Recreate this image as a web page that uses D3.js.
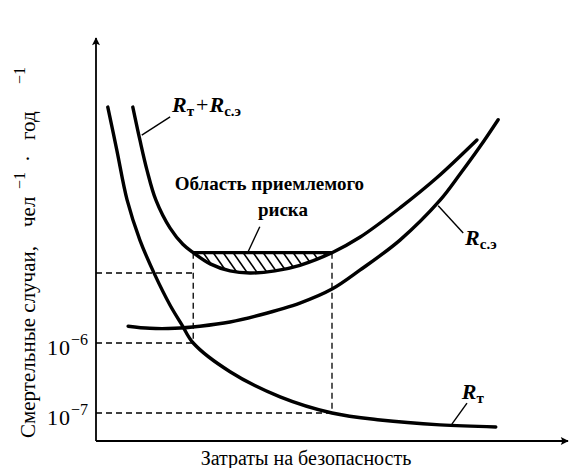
<!DOCTYPE html>
<html>
<head>
<meta charset="utf-8">
<script src="https://cdn.jsdelivr.net/npm/d3@7"></script>
<style>
  body { margin: 0; background: #fff; }
  svg { display: block; font-family: "Liberation Serif", "DejaVu Serif", serif; }
</style>
</head>
<body>
<div id="graph"></div>
<script>
// затраты (усл. ед.) и lg риска для каждой кривой
const costRt = [2.5, 4.4, 6.6, 9.3, 12.5, 15.7, 18.2, 20.6, 28.4, 39.0, 50.0, 60.2, 72.9, 84.7];
const riskRt = [-2.63, -3.24, -3.96, -4.53, -5.03, -5.46, -5.74, -6.00, -6.41, -6.77, -7.00, -7.10, -7.17, -7.20];

const costSum = [7.8, 9.3, 10.8, 12.7, 15.7, 18.4, 20.6, 24.2, 28.4, 32.6, 37.9, 43.2, 50.0, 55.9, 64.4, 72.2, 80.7];
const riskSum = [-2.63, -3.10, -3.53, -3.96, -4.36, -4.59, -4.71, -4.87, -4.97, -5.00, -4.97, -4.89, -4.71, -4.49, -4.07, -3.64, -3.10];

const costCe = [6.8, 11.4, 16.7, 22.0, 28.4, 34.7, 43.2, 50.0, 55.9, 64.4, 72.9, 77.1, 81.4, 85.2];
const riskCe = [-5.76, -5.79, -5.79, -5.76, -5.70, -5.60, -5.43, -5.23, -4.96, -4.53, -3.96, -3.59, -3.19, -2.81];

// уровни и границы
const tickExp = [-6, -7];
const acceptLevel = -4.71;
const minLevel = -5.00;
const costBounds = [20.6, 50.0];
const boundRisk = [-6, -7];

const width = 569, height = 468;
const margin = { left: 96, right: 1, top: 38, bottom: 27 };

const x = d3.scaleLinear().domain([0, 100]).range([margin.left, width - margin.right]);
const y = d3.scaleLinear().domain([-7.4, -1.643]).range([height - margin.bottom, margin.top]);

const svg = d3.select("#graph")
  .append("svg")
  .attr("width", width)
  .attr("height", height);

const defs = svg.append("defs");
defs.append("marker")
  .attr("id", "arrow")
  .attr("viewBox", "0 0 10 10")
  .attr("refX", 9).attr("refY", 5)
  .attr("markerWidth", 10).attr("markerHeight", 8)
  .attr("markerUnits", "userSpaceOnUse")
  .attr("orient", "auto")
  .append("path")
  .attr("d", "M0,0 L10,5 L0,10 L2,5 Z")
  .attr("fill", "#000");

const zip = (a, b) => a.map((v, i) => [v, b[i]]);
const line = d3.line().x(d => x(d[0])).y(d => y(d[1])).curve(d3.curveCatmullRom.alpha(0.5));

const sumPts = zip(costSum, riskSum);

// штриховка области приемлемого риска
const above = line(sumPts) + "L" + x(costSum[costSum.length - 1]) + ",0L" + x(costSum[0]) + ",0Z";
defs.append("clipPath").attr("id", "clipCurve").append("path").attr("d", above);
defs.append("clipPath").attr("id", "clipBox").append("rect")
  .attr("x", x(costBounds[0])).attr("y", y(acceptLevel))
  .attr("width", x(costBounds[1]) - x(costBounds[0]))
  .attr("height", y(-7.4) - y(acceptLevel));

const hatch = svg.append("g").attr("clip-path", "url(#clipBox)")
  .append("g").attr("clip-path", "url(#clipCurve)");
const h0 = x(costBounds[0]) - 30, h1 = x(costBounds[1]);
for (let hx = h0; hx < h1; hx += 10) {
  hatch.append("line")
    .attr("x1", hx).attr("y1", y(acceptLevel))
    .attr("x2", hx + 21).attr("y2", y(acceptLevel) + 30)
    .attr("stroke", "#000").attr("stroke-width", 1.6);
}

// пунктирные линии
const dash = svg.append("g")
  .attr("stroke", "#000").attr("stroke-width", 1.3)
  .attr("stroke-dasharray", "6,4").attr("fill", "none");
dash.append("line")
  .attr("x1", x(0)).attr("x2", x(costBounds[0]))
  .attr("y1", y(minLevel)).attr("y2", y(minLevel));
costBounds.forEach((c, i) => {
  dash.append("line")
    .attr("x1", x(c)).attr("x2", x(c))
    .attr("y1", y(acceptLevel)).attr("y2", y(boundRisk[i]));
  dash.append("line")
    .attr("x1", x(0)).attr("x2", x(c))
    .attr("y1", y(boundRisk[i])).attr("y2", y(boundRisk[i]));
});

// верхняя граница области
svg.append("line")
  .attr("x1", x(costBounds[0])).attr("x2", x(costBounds[1]))
  .attr("y1", y(acceptLevel)).attr("y2", y(acceptLevel))
  .attr("stroke", "#000").attr("stroke-width", 3.2);

// кривые
[zip(costRt, riskRt), sumPts, zip(costCe, riskCe)].forEach(pts => {
  svg.append("path")
    .attr("d", line(pts))
    .attr("fill", "none")
    .attr("stroke", "#000")
    .attr("stroke-width", 3.4)
    .attr("stroke-linecap", "round");
});

// оси
svg.append("line")
  .attr("x1", x(0)).attr("y1", y(-7.4)).attr("x2", x(0)).attr("y2", y(-1.643))
  .attr("stroke", "#000").attr("stroke-width", 1.8).attr("marker-end", "url(#arrow)");
svg.append("line")
  .attr("x1", x(0)).attr("y1", y(-7.4)).attr("x2", x(100)).attr("y2", y(-7.4))
  .attr("stroke", "#000").attr("stroke-width", 1.8).attr("marker-end", "url(#arrow)");

const yAxis = svg.append("g")
  .attr("transform", "translate(" + x(0) + ",0)")
  .call(d3.axisLeft(y).tickValues(tickExp).tickSize(0).tickPadding(8).tickFormat(""));
yAxis.select(".domain").remove();
yAxis.selectAll(".tick text")
  .attr("font-family", "Liberation Serif, serif")
  .attr("font-size", 22)
  .attr("fill", "#000")
  .attr("dy", 12)
  .each(function(d) {
    const t = d3.select(this);
    t.append("tspan").attr("letter-spacing", 1).text("10");
    t.append("tspan").attr("dy", -10).attr("font-size", 16).text("\u2212" + Math.abs(d));
  });

// подписи
const fs = 19;
function rLabel(cx, cy, parts) {
  const t = svg.append("text")
    .attr("x", x(cx)).attr("y", y(cy))
    .attr("font-size", 22).attr("font-weight", "bold");
  parts.forEach(p => {
    if (p === "+") {
      t.append("tspan").attr("font-weight", "normal").attr("dx", 2).attr("dy", -4).text("+");
      t.append("tspan").attr("dy", 4).text("");
    } else {
      t.append("tspan").attr("font-style", "italic").attr("dx", p[2] || 0).text("R");
      t.append("tspan").attr("font-size", 15).attr("dy", 4).text(p[1]);
      t.append("tspan").attr("dy", -4).text("");
    }
  });
}
rLabel(16.1, -2.70, [["R", "т"], "+", ["R", "с.э", 1]]);
rLabel(78.2, -4.60, [["R", "с.э"]]);
rLabel(77.5, -6.80, [["R", "т"]]);

svg.append("text")
  .attr("x", x(16.7)).attr("y", y(-3.81))
  .attr("font-size", fs).attr("font-weight", "bold")
  .text("Область приемлемого");
svg.append("text")
  .attr("x", x(34.3)).attr("y", y(-4.19))
  .attr("font-size", fs).attr("font-weight", "bold")
  .text("риска");

// выноски
const leaders = [
  [[9.7, -3.03], [15.7, -2.77]],
  [[72.5, -4.04], [77.8, -4.43]],
  [[75.4, -7.16], [78.6, -6.86]],
  [[32.2, -4.70], [34.7, -4.34]]
];
leaders.forEach(l => {
  svg.append("line")
    .attr("x1", x(l[0][0])).attr("y1", y(l[0][1]))
    .attr("x2", x(l[1][0])).attr("y2", y(l[1][1]))
    .attr("stroke", "#000").attr("stroke-width", 1.4);
});

// подписи осей
svg.append("text")
  .attr("x", 306).attr("y", 465)
  .attr("text-anchor", "middle")
  .attr("font-size", 20)
  .text("Затраты на безопасность");

const yt = svg.append("text")
  .attr("transform", "translate(35,0) rotate(-90)")
  .attr("font-size", 21);
yt.append("tspan").attr("x", -438).text("Смертельные случаи,");
yt.append("tspan").attr("x", -227).text("чел");
yt.append("tspan").attr("x", -189).attr("dy", -10).attr("font-size", 16).text("\u22121");
yt.append("tspan").attr("x", -162).attr("dy", 10).text("\u00b7");
yt.append("tspan").attr("x", -140).text("год");
yt.append("tspan").attr("x", -84).attr("dy", -10).attr("font-size", 16).text("\u22121");
</script>
</body>
</html>
